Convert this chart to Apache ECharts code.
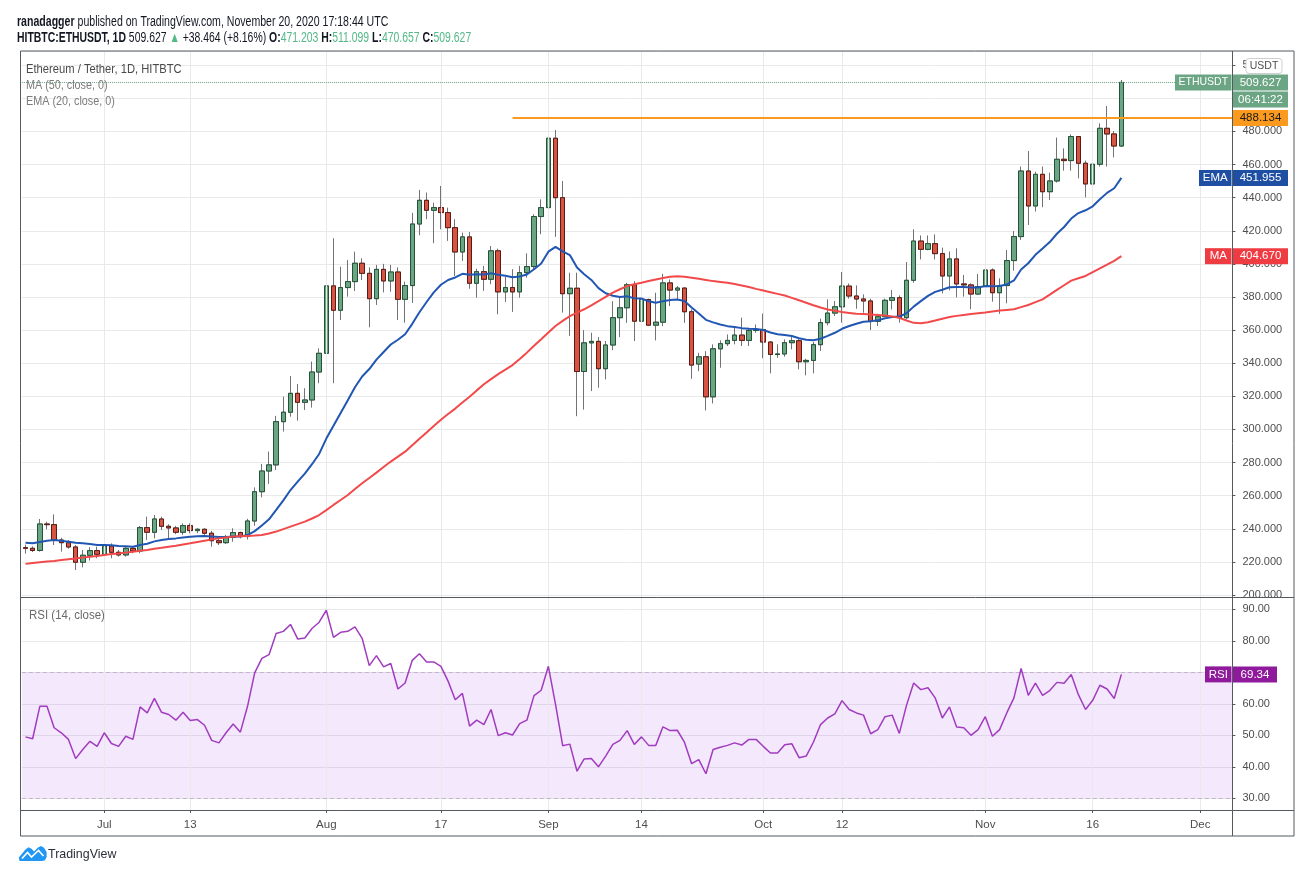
<!DOCTYPE html>
<html><head><meta charset="utf-8">
<script src="https://cdn.jsdelivr.net/npm/echarts/dist/echarts.min.js"></script>
<style>html,body{margin:0;padding:0;background:#fff;}#chart{width:1311px;height:873px;}</style>
</head><body><div id="chart"></div>
<script>
// ---------- data ----------
const startDate = [2020, 5, 20];   // 2020-06-20 (first candle)
const totalDays = 169;             // axis runs to 2020-12-05

const opens = [
228.6,228.2,226.9,242.9,242.5,233.2,231.6,229.0,219.8,224.0,
226.8,224.6,229.6,225.8,224.2,228.2,226.6,240.7,237.9,245.9,
241.5,240.5,237.9,241.9,238.9,239.7,237.3,232.8,231.6,234.8,
237.7,235.3,244.7,262.4,274.9,278.6,304.7,310.4,321.8,316.4,
317.8,334.7,346.0,386.7,372.0,385.7,389.3,400.4,394.3,379.0,
396.7,389.7,395.1,378.6,386.9,424.1,438.4,432.4,434.0,431.0,
421.9,407.2,416.3,388.3,395.3,390.7,407.9,383.1,385.7,383.1,
394.7,398.4,428.6,434.0,475.9,440.0,382.0,385.3,335.0,352.3,
353.2,336.7,351.0,367.5,373.5,387.4,365.4,378.5,363.0,364.8,
388.5,384.2,385.4,371.1,339.5,343.9,319.7,348.7,351.8,353.8,
357.0,353.8,359.8,360.3,352.8,345.3,345.6,352.4,353.6,340.9,
341.7,351.2,364.5,370.3,374.1,386.6,380.6,378.8,377.6,365.3,
368.1,378.0,379.6,367.5,390.1,413.8,408.8,412.2,406.2,392.7,
403.0,387.9,387.3,381.8,386.3,396.3,382.6,386.9,402.0,416.5,
456.1,435.0,454.1,443.6,450.1,463.2,462.4,476.9,460.8,448.3,
460.2,481.9,478.5,471.203];
const closes = [
228.2,226.9,242.9,242.5,233.2,231.6,229.0,219.8,224.0,226.8,
224.6,229.6,225.8,224.2,228.2,226.6,240.7,237.9,245.9,241.5,
240.5,237.9,241.9,238.9,239.7,237.3,232.8,231.6,234.8,237.7,
235.3,244.7,262.4,274.9,278.6,304.7,310.4,321.8,316.4,317.8,
334.7,346.0,386.7,372.0,385.7,389.3,400.4,394.3,379.0,396.7,
389.7,395.1,378.6,386.9,424.1,438.4,432.4,434.0,431.0,421.9,
407.2,416.3,388.3,395.3,390.7,407.9,383.1,385.7,383.1,394.7,
398.4,428.6,434.0,475.9,440.0,382.0,385.3,335.0,352.3,353.2,
336.7,351.0,367.5,373.5,387.4,365.4,378.5,363.0,364.8,388.5,
384.2,385.4,371.1,338.9,343.9,319.7,348.7,351.8,353.8,357.0,
353.8,359.8,360.3,352.8,345.3,345.6,352.4,353.6,340.9,341.7,
351.2,364.5,370.3,374.1,386.6,380.6,378.8,377.6,365.3,368.1,
378.0,379.6,367.5,390.1,413.8,408.8,412.2,406.2,392.7,403.0,
387.9,387.3,381.8,386.3,396.3,382.6,386.9,402.0,416.5,456.1,
435.0,454.1,443.6,450.1,463.2,462.4,476.9,460.8,448.3,460.2,
481.9,478.5,471.203,509.627];
const highs = [
230.4,229.4,245.9,244.3,248.7,234.6,233.2,230.2,227.2,228.8,
229.2,231.2,231.2,227.2,229.6,229.2,241.7,247.3,248.3,247.3,
242.7,241.7,243.3,243.3,240.3,240.3,238.7,234.2,236.3,240.3,
238.3,246.0,265.0,279.2,286.6,308.2,319.8,332.3,327.5,324.9,
341.0,349.0,392.7,415.5,398.3,402.4,407.4,403.4,397.9,399.4,
400.0,399.4,397.9,389.3,430.8,444.7,443.1,437.0,447.1,434.0,
427.0,418.9,419.3,397.1,398.8,410.8,409.2,392.1,396.8,398.8,
406.4,430.0,439.0,489.0,480.9,450.1,394.7,394.7,360.0,358.4,
355.8,353.4,377.5,380.5,388.6,389.6,382.6,379.0,382.6,394.0,
390.6,386.6,385.8,372.5,346.3,347.3,351.4,353.8,357.4,361.4,
367.5,361.4,363.4,370.0,353.4,351.4,354.4,356.0,355.4,342.7,
352.8,366.9,378.6,377.6,395.1,388.2,387.0,381.6,379.0,369.9,
379.0,384.2,381.0,401.1,420.9,417.2,417.2,417.8,409.8,407.5,
409.4,393.3,388.3,393.9,399.8,397.3,391.3,408.4,419.9,458.8,
468.2,455.7,458.8,455.1,476.3,469.8,478.3,477.3,462.4,462.8,
484.9,495.4,480.3,511.099];
const lows = [
225.0,226.0,226.2,239.7,230.2,226.2,228.0,215.1,216.7,220.8,
222.2,222.2,222.2,223.2,223.2,225.2,225.2,233.2,234.2,239.3,
234.2,236.7,236.3,237.3,237.3,236.3,229.2,230.2,230.8,232.2,
234.2,233.5,241.8,259.0,267.1,275.5,298.7,307.7,305.3,311.8,
313.2,327.9,343.0,327.9,366.1,380.2,383.6,390.3,361.7,375.2,
382.8,383.2,366.1,364.5,376.4,417.3,427.0,412.5,420.9,413.9,
392.7,401.8,385.0,379.6,383.7,387.7,369.6,377.0,371.0,379.6,
391.7,396.8,417.9,429.4,416.3,370.6,356.5,308.0,312.0,323.2,
325.2,330.2,347.9,355.8,364.4,353.4,355.4,362.4,353.8,362.4,
374.5,378.5,364.4,330.6,335.2,311.5,315.7,337.3,350.4,351.4,
350.4,350.4,358.4,343.0,333.9,343.3,343.9,348.4,336.3,332.7,
333.9,347.4,362.9,368.5,364.5,379.0,372.9,370.5,360.0,362.5,
367.9,372.5,364.5,366.5,388.6,402.7,408.2,402.7,382.2,384.0,
379.8,380.2,372.6,381.2,384.3,377.2,369.8,376.2,395.9,414.5,
423.5,431.6,434.2,438.6,449.1,456.3,456.3,451.7,440.2,445.1,
458.8,458.8,464.4,470.657];
const ema20 = [
231.6,231.2,232.0,232.8,233.2,232.8,232.2,231.6,231.2,230.8,
230.2,230.2,230.0,229.6,229.4,229.2,230.2,231.0,232.4,233.2,
233.8,234.2,234.8,235.2,235.5,235.6,235.4,235.1,235.0,235.3,
235.3,236.2,238.6,242.0,245.7,251.4,257.2,263.4,268.5,273.3,
279.0,285.2,294.5,302.2,310.0,317.6,325.5,332.0,336.5,342.2,
346.8,351.3,354.2,357.5,363.8,370.8,377.0,382.8,387.4,390.3,
391.8,394.0,393.5,393.8,393.6,394.4,393.5,392.8,392.0,392.4,
393.6,396.8,400.2,407.4,410.3,407.6,405.3,397.8,393.8,390.3,
385.4,382.3,380.8,380.0,380.4,379.2,379.1,377.4,376.5,377.5,
378.2,378.5,377.6,373.6,370.0,366.2,364.7,363.4,362.4,361.9,
361.2,360.9,360.7,360.1,358.6,357.5,357.0,356.4,355.1,354.2,
353.9,354.8,356.5,358.4,360.8,362.5,363.8,365.1,365.4,366.0,
367.1,367.9,368.2,370.2,374.2,377.5,380.7,383.1,384.4,385.9,
386.0,386.0,385.8,385.8,386.6,386.5,386.6,387.6,390.0,396.6,
400.4,405.5,409.3,413.2,418.2,422.3,427.4,430.7,432.4,434.8,
439.0,442.9,445.7,451.955];
const ma50 = [
218.8,219.3,219.8,220.2,220.6,221.1,221.6,222.1,222.6,223.1,
223.6,224.2,224.7,225.1,225.6,226.1,226.7,227.2,227.9,228.5,
229.2,229.8,230.5,231.2,232.0,232.8,233.6,234.2,234.8,235.3,
235.5,235.7,235.9,236.3,237.2,238.3,239.8,241.3,242.8,244.3,
246.2,248.3,251.3,254.4,257.4,260.4,264.0,267.5,270.7,273.9,
277.3,280.6,283.6,286.6,290.5,294.4,298.2,302.1,305.9,309.3,
312.6,316.3,319.8,323.6,327.3,330.4,333.4,336.1,338.9,342.6,
346.4,350.5,354.5,358.6,362.5,365.6,368.4,370.6,372.6,375.0,
377.5,380.1,382.6,384.7,386.6,387.7,388.6,389.7,390.6,391.5,
392.2,392.6,392.3,391.7,391.0,390.3,389.6,389.1,388.6,387.8,
387.0,386.0,384.9,383.9,382.9,381.9,380.9,379.5,378.0,376.5,
375.0,373.7,372.5,371.7,370.9,370.4,369.9,369.7,369.5,369.2,
368.9,368.2,367.4,365.8,364.4,364.2,364.8,365.8,366.9,367.9,
368.6,369.2,369.8,370.2,370.6,371.2,371.8,372.2,372.6,373.9,
375.2,376.9,378.6,381.4,384.3,387.1,389.9,391.3,392.7,395.0,
397.3,399.6,401.8,404.67];
const rsi14 = [
49.5,48.9,59.2,59.2,52.4,50.8,48.7,42.6,45.5,48.1,
46.5,50.8,47.4,46.5,49.7,48.7,59.0,57.1,61.7,57.3,
56.6,54.8,57.3,54.7,55.0,53.2,48.4,47.6,50.8,53.6,
51.0,59.2,69.8,74.4,75.6,82.3,83.0,85.2,80.6,80.9,
83.9,85.9,89.7,81.1,82.7,83.0,84.4,80.8,72.1,75.3,
71.7,72.8,64.7,66.6,73.8,75.9,73.3,73.3,71.9,67.2,
61.3,63.3,52.9,54.8,53.4,58.2,49.9,50.8,50.1,53.7,
54.8,62.6,64.3,71.9,59.8,46.7,47.2,38.6,42.5,42.6,
40.0,43.4,47.1,48.4,51.5,47.1,49.5,46.8,46.8,52.7,
51.5,51.6,47.8,41.0,42.3,37.8,45.5,46.2,46.8,47.6,
46.9,48.7,48.7,46.5,44.4,44.4,47.0,47.3,42.9,43.4,
47.8,53.4,55.5,56.8,61.0,58.2,57.1,56.4,50.5,51.8,
55.9,56.4,50.6,59.5,66.6,64.5,65.1,61.9,55.5,59.0,
52.6,52.4,50.0,51.8,55.9,49.7,51.8,57.1,61.9,71.2,
62.7,66.6,62.7,64.2,66.8,66.5,69.3,62.9,58.2,61.1,
65.9,64.7,61.7,69.34];

const tickDates  = ['2020-07-01','2020-07-13','2020-08-01','2020-08-17','2020-09-01','2020-09-14','2020-10-01','2020-10-12','2020-11-01','2020-11-16','2020-12-01'];
const tickLabels = ['Jul','13','Aug','17','Sep','14','Oct','12','Nov','16','Dec'];

const resistanceStart = '2020-08-27';
const resistanceValue = 488.134;
const lastPrice = 509.627;
const lastEma = 451.955;
const lastMa = 404.670;
const lastRsi = 69.34;
const rsiBand = [30, 70];

// ---------- build ----------
const categories = [];
for (let i = 0; i < totalDays; i++) {
  const d = new Date(Date.UTC(startDate[0], startDate[1], startDate[2] + i));
  categories.push(d.toISOString().slice(0, 10));
}
const candleFull = opens.map((o, i) => [o, closes[i], lows[i], highs[i]]);
const candleBody = opens.map((o, i) => [o, closes[i], Math.min(o, closes[i]), Math.max(o, closes[i])]);

const FONT = "'Liberation Sans','Arial',sans-serif";
const GRID_L = 21.9, GRID_R = 78.6;
const gridLine = '#e9e9ea';
const axisText = '#4e4e4e';

const chart = echarts.init(document.getElementById('chart'), null, {renderer: 'canvas'});

const hiddenX = (gi) => ({
  type: 'category', gridIndex: gi, data: categories, boundaryGap: true,
  axisLine: {show: false}, axisTick: {show: false}, axisLabel: {show: false}, splitLine: {show: false}
});

const option = {
  animation: false,
  backgroundColor: '#ffffff',
  grid: [
    {left: GRID_L, right: GRID_R, top: 51, bottom: 278, outerBoundsMode: 'none'},
    {left: GRID_L, right: GRID_R, top: 609.3, bottom: 74.7, outerBoundsMode: 'none'},
    {left: GRID_L, right: GRID_R, top: 51, bottom: 63, outerBoundsMode: 'none'}
  ],
  xAxis: [
    hiddenX(0), hiddenX(1),
    {
      type: 'category', gridIndex: 2, data: categories, boundaryGap: true,
      axisLine: {show: false},
      axisTick: {show: true, alignWithLabel: true, length: 3, lineStyle: {color: '#555'},
                 interval: (i, v) => tickDates.indexOf(v) >= 0},
      axisLabel: {show: true, color: axisText, fontSize: 11.5, fontFamily: FONT, margin: 9,
                  interval: (i, v) => tickDates.indexOf(v) >= 0,
                  formatter: v => tickLabels[tickDates.indexOf(v)] || ''},
      splitLine: {show: false}
    }
  ],
  yAxis: [
    {
      type: 'value', gridIndex: 0, position: 'right', min: 200, max: 528.6, interval: 20, scale: false,
      axisLine: {show: false},
      axisTick: {show: true, length: 3, lineStyle: {color: '#555'}},
      axisLabel: {color: axisText, fontSize: 11, fontFamily: FONT, margin: 10,
                  showMaxLabel: false, showMinLabel: true, formatter: v => v.toFixed(3)},
      splitLine: {show: true, lineStyle: {color: gridLine, width: 1}}
    },
    {
      type: 'value', gridIndex: 1, position: 'right', min: 30, max: 90, interval: 10,
      axisLine: {show: false},
      axisTick: {show: true, length: 3, lineStyle: {color: '#555'}},
      axisLabel: {color: axisText, fontSize: 11, fontFamily: FONT, margin: 10,
                  showMaxLabel: true, showMinLabel: true, formatter: v => v.toFixed(2)},
      splitLine: {show: true, lineStyle: {color: gridLine, width: 1}}
    },
    {type: 'value', gridIndex: 2, min: 0, max: 1, show: false}
  ],
  series: [
    {
      name: 'vgrid', type: 'line', xAxisIndex: 2, yAxisIndex: 2, z: 0, silent: true,
      data: categories.map(() => null), showSymbol: false,
      markLine: {silent: true, symbol: ['none', 'none'], label: {show: false},
                 lineStyle: {color: gridLine, width: 1, type: 'solid'},
                 data: tickDates.map(d => ({xAxis: d}))}
    },
    {
      name: 'wicks', type: 'candlestick', xAxisIndex: 0, yAxisIndex: 0, z: 3,
      data: candleFull, barWidth: 5,
      itemStyle: {color: '#6ba583', color0: '#d75442', borderColor: '#737375', borderColor0: '#737375', borderWidth: 1},
      markLine: {silent: true, symbol: ['none', 'none'], label: {show: false},
                 lineStyle: {color: '#6ba583', type: 'dotted', width: 1},
                 data: [{yAxis: lastPrice}]}
    },
    {
      name: 'bodies', type: 'candlestick', xAxisIndex: 0, yAxisIndex: 0, z: 4,
      data: candleBody, barWidth: 5,
      itemStyle: {color: '#6ba583', color0: '#d75442', borderColor: '#225437', borderColor0: '#5b1a13', borderWidth: 1}
    },
    {
      name: 'EMA', type: 'line', xAxisIndex: 0, yAxisIndex: 0, z: 5, data: ema20,
      showSymbol: false, smooth: false, lineStyle: {color: '#2157b3', width: 2}
    },
    {
      name: 'MA', type: 'line', xAxisIndex: 0, yAxisIndex: 0, z: 5, data: ma50,
      showSymbol: false, smooth: false, lineStyle: {color: '#f24a4a', width: 2}
    },
    {
      name: 'RSI', type: 'line', xAxisIndex: 1, yAxisIndex: 1, z: 5, data: rsi14,
      showSymbol: false, smooth: false, lineStyle: {color: '#a13cbf', width: 1.5},
      markArea: {silent: true, itemStyle: {color: 'rgba(149,50,230,0.11)'},
                 data: [[{yAxis: rsiBand[0]}, {yAxis: rsiBand[1]}]]},
      markLine: {silent: true, symbol: ['none', 'none'], label: {show: false},
                 lineStyle: {color: '#c4b4c9', type: [4, 3], width: 1},
                 data: [{yAxis: rsiBand[1]}, {yAxis: rsiBand[0]}]}
    }
  ]
};
chart.setOption(option);

// ---------- annotations positioned through the chart scales ----------
const yP = v => chart.convertToPixel({yAxisIndex: 0}, v);
const yR = v => chart.convertToPixel({yAxisIndex: 1}, v);
const xRes = chart.convertToPixel({xAxisIndex: 0}, resistanceStart);
const AX = 1232.5;

function badge(x, yc, w, h, text, bg, fg, fs) {
  return [
    {type: 'rect', z: 100, shape: {x: x, y: yc - h / 2, width: w, height: h}, style: {fill: bg}},
    {type: 'text', z: 101, x: x + w / 2, y: yc, style: {text: text, fill: fg, font: (fs || 11.5) + 'px ' + FONT, align: 'center', verticalAlign: 'middle'}}
  ];
}
function label(x, y, text, size, color, sx, rich) {
  const st = {text: text, font: size + 'px ' + FONT, fill: color, verticalAlign: 'middle'};
  if (rich) st.rich = rich;
  return {type: 'text', z: 100, x: x, y: y, scaleX: sx, scaleY: 1, style: st};
}
const frameStroke = '#555a60';
const g = [];
// frame and pane separators
g.push({type: 'rect', z: 60, shape: {x: 20.5, y: 51, width: 1273.5, height: 785}, style: {fill: 'none', stroke: frameStroke, lineWidth: 1}});
g.push({type: 'line', z: 60, shape: {x1: 20.5, y1: 597.5, x2: 1294, y2: 597.5}, style: {stroke: frameStroke, lineWidth: 1}});
g.push({type: 'line', z: 60, shape: {x1: 20.5, y1: 810.5, x2: 1294, y2: 810.5}, style: {stroke: frameStroke, lineWidth: 1}});
g.push({type: 'line', z: 60, shape: {x1: AX, y1: 51, x2: AX, y2: 836}, style: {stroke: frameStroke, lineWidth: 1}});
// resistance line
const yRes = yP(resistanceValue);
g.push({type: 'line', z: 20, shape: {x1: xRes, y1: yRes, x2: AX, y2: yRes}, style: {stroke: '#fb9a1c', lineWidth: 2}});
// header
const bold = {fontWeight: 'bold', fontSize: 14, fontFamily: FONT, fill: '#131722'};
g.push(label(17, 22, '{b|ranadagger} published on TradingView.com, November 20, 2020 17:18:44 UTC', 14, '#131722', 0.755, {b: bold}));
g.push(label(17, 38.5, '{b|HITBTC:ETHUSDT, 1D} 509.627 {g|▲} +38.464 (+8.16%) {b|O:}{g|471.203} {b|H:}{g|511.099} {b|L:}{g|470.657} {b|C:}{g|509.627}',
  14, '#131722', 0.745, {b: bold, g: {fontSize: 14, fontFamily: FONT, fill: '#53b987'}}));
// pane legends
g.push(label(26, 69, 'Ethereum / Tether, 1D, HITBTC', 13.5, '#4a4a4a', 0.83));
g.push(label(26, 85.5, 'MA (50, close, 0)', 13.5, '#7b7b7b', 0.8));
g.push(label(26, 101.5, 'EMA (20, close, 0)', 13.5, '#7b7b7b', 0.8));
g.push(label(29, 615.5, 'RSI (14, close)', 13.5, '#6a6a6a', 0.85));
// axis badges
const yLast = yP(lastPrice);
g.push(...badge(1175, yLast, 56.5, 16, 'ETHUSDT', '#6ba583', '#ffffff', 10.5));
g.push(...badge(1233, yLast, 55, 16, lastPrice.toFixed(3), '#6ba583', '#ffffff'));
g.push(...badge(1233, yLast + 17, 55, 16, '06:41:22', '#6ba583', '#ffffff'));
g.push(...badge(1233, yRes, 55, 16, resistanceValue.toFixed(3), '#fb9a1c', '#1a1a1a'));
const yEma = yP(lastEma);
g.push(...badge(1199, yEma, 32.5, 16, 'EMA', '#1e4fa2', '#ffffff'));
g.push(...badge(1233, yEma, 55, 16, lastEma.toFixed(3), '#1e4fa2', '#ffffff'));
const yMa = yP(lastMa);
g.push(...badge(1205, yMa, 26.5, 16, 'MA', '#ef3b42', '#ffffff'));
g.push(...badge(1233, yMa, 55, 16, lastMa.toFixed(3), '#ef3b42', '#ffffff'));
const yRsi = yR(lastRsi);
g.push(...badge(1205, yRsi, 26.5, 16, 'RSI', '#8f1a9c', '#ffffff'));
g.push(...badge(1233, yRsi, 44, 16, lastRsi.toFixed(2), '#8f1a9c', '#ffffff'));
// USDT unit box
g.push({type: 'rect', z: 102, shape: {x: 1246, y: 58.5, width: 36, height: 15, r: 3}, style: {fill: '#ffffff', stroke: '#cfcfcf', lineWidth: 1}});
g.push({type: 'text', z: 103, x: 1264, y: 66, style: {text: 'USDT', font: '10.5px ' + FONT, fill: '#4e4e4e', align: 'center', verticalAlign: 'middle'}});
// TradingView logo
g.push({type: 'polygon', z: 100, shape: {points: [[19.5,861],[18.8,857.5],[25.5,849.5],[28.5,847.3],[31.5,848.8],[34,851.5],[38,847.5],[41,846],[44,847.8],[46.6,852],[46.6,857],[45,860.2],[42,861]]}, style: {fill: '#2196f3'}});
g.push({type: 'polyline', z: 101, shape: {points: [[22, 858.5], [27.5, 852.5], [31.5, 857], [38.5, 850.5], [43.5, 856]]}, style: {stroke: '#ffffff', lineWidth: 1.6, fill: 'none'}});
g.push(label(48, 854.5, 'TradingView', 13.5, '#2a2e39', 0.92));

chart.setOption({graphic: {elements: g}});
</script>
</body></html>
